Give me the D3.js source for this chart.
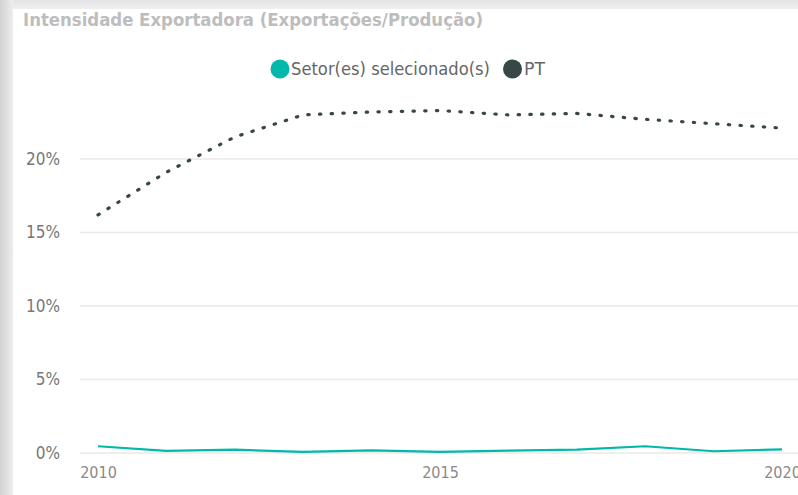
<!DOCTYPE html>
<html>
<head>
<meta charset="utf-8">
<script src="https://cdn.jsdelivr.net/npm/d3@7"></script>
<style>
  html, body { margin: 0; padding: 0; background: #ffffff; }
  svg { display: block; }
  text { font-family: "DejaVu Sans Condensed", "DejaVu Sans", sans-serif; font-stretch: condensed; }
</style>
</head>
<body>
<svg id="chart" width="798" height="495"></svg>
<script>
// ---- data ----
const years = [2010, 2011, 2012, 2013, 2014, 2015, 2016, 2017, 2018, 2019, 2020];
const setorValues = [0.0046, 0.0014, 0.0023, 0.0007, 0.0018, 0.0007, 0.0016, 0.0023, 0.0046, 0.0012, 0.0025];
const ptValues = [0.162, 0.191, 0.215, 0.230, 0.232, 0.233, 0.230, 0.231, 0.227, 0.224, 0.221];
const yTicks = [0, 0.05, 0.10, 0.15, 0.20];
const xTicks = [2010, 2015, 2020];
const seriesNames = ["Setor(es) selecionado(s)", "PT"];
const seriesColors = ["#01B8AA", "#374649"];
const title = "Intensidade Exportadora (Exportações/Produção)";

const W = 798, H = 495;
const svg = d3.select("#chart");

// background frame
const defs = svg.append("defs");
const gl = defs.append("linearGradient").attr("id", "leftGrad").attr("x1", "0").attr("x2", "1").attr("y1", "0").attr("y2", "0");
gl.append("stop").attr("offset", "0%").attr("stop-color", "#d2d2d2");
gl.append("stop").attr("offset", "100%").attr("stop-color", "#ededed");
const gt = defs.append("linearGradient").attr("id", "topGrad").attr("x1", "0").attr("x2", "0").attr("y1", "0").attr("y2", "1");
gt.append("stop").attr("offset", "0%").attr("stop-color", "#e4e4e4");
gt.append("stop").attr("offset", "100%").attr("stop-color", "#efefef");

svg.append("rect").attr("x", 0).attr("y", 0).attr("width", W).attr("height", 9).attr("fill", "url(#topGrad)");
svg.append("rect").attr("x", 0).attr("y", 0).attr("width", 13).attr("height", H).attr("fill", "url(#leftGrad)");
svg.append("rect").attr("x", 13).attr("y", 9).attr("width", W - 13).attr("height", H - 9).attr("fill", "#ffffff");

// title
svg.append("text")
  .attr("x", 23).attr("y", 26)
  .attr("font-size", 17).attr("font-weight", 600)
  .attr("fill", "#bdbdbd")
  .attr("textLength", 460).attr("lengthAdjust", "spacingAndGlyphs")
  .text(title);

// scales
const x = d3.scaleLinear().domain([2010, 2020]).range([98, 782]);
const y = d3.scaleLinear().domain([0, 0.20]).range([453, 159]);

// gridlines + y labels
const yAxis = d3.axisLeft(y).tickValues(yTicks).tickSize(0).tickFormat(d => Math.round(d * 100) + "%");
const gy = svg.append("g").attr("transform", "translate(62,0)").call(yAxis);
gy.select(".domain").remove();
gy.selectAll("text").attr("x", -2).attr("font-size", 17).attr("fill", "#777777")
  .style("font-family", "\"DejaVu Sans Condensed\", \"DejaVu Sans\", sans-serif").style("font-stretch", "condensed");
svg.append("g").selectAll("line").data(yTicks).join("line")
  .attr("x1", 80).attr("x2", W)
  .attr("y1", d => y(d)).attr("y2", d => y(d))
  .attr("stroke", "#e9e9e9").attr("stroke-width", 1.6);

// x axis
const xAxis = d3.axisBottom(x).tickValues(xTicks).tickSize(0).tickFormat(d3.format("d"));
const gx = svg.append("g").attr("transform", "translate(0,464)").call(xAxis);
gx.select(".domain").remove();
gx.selectAll("text").attr("font-size", 16).attr("fill", "#8a8a8a").attr("dy", "0.71em")
  .style("font-family", "\"DejaVu Sans Condensed\", \"DejaVu Sans\", sans-serif").style("font-stretch", "condensed");

// lines
const line = d3.line().x((d, i) => x(years[i])).y(d => y(d));
svg.append("path").datum(ptValues).attr("d", line)
  .attr("fill", "none").attr("stroke", seriesColors[1]).attr("stroke-width", 3.2)
  .attr("stroke-linecap", "round").attr("stroke-linejoin", "round").attr("stroke-dasharray", "1.4,10.3");
svg.append("path").datum(setorValues).attr("d", line)
  .attr("fill", "none").attr("stroke", seriesColors[0]).attr("stroke-width", 2.2)
  .attr("stroke-linejoin", "round");

// legend
const legendItems = [
  { name: seriesNames[0], color: seriesColors[0], cx: 280, tx: 291, w: 199 },
  { name: seriesNames[1], color: seriesColors[1], cx: 512.5, tx: 524, w: 21 }
];
const lg = svg.append("g");
lg.selectAll("circle").data(legendItems).join("circle")
  .attr("cx", d => d.cx).attr("cy", 69).attr("r", 9.5).attr("fill", d => d.color);
lg.selectAll("text").data(legendItems).join("text")
  .attr("x", d => d.tx).attr("y", 75)
  .attr("font-size", 17).attr("fill", "#666666")
  .attr("textLength", d => d.w).attr("lengthAdjust", "spacingAndGlyphs")
  .text(d => d.name);
</script>
</body>
</html>
